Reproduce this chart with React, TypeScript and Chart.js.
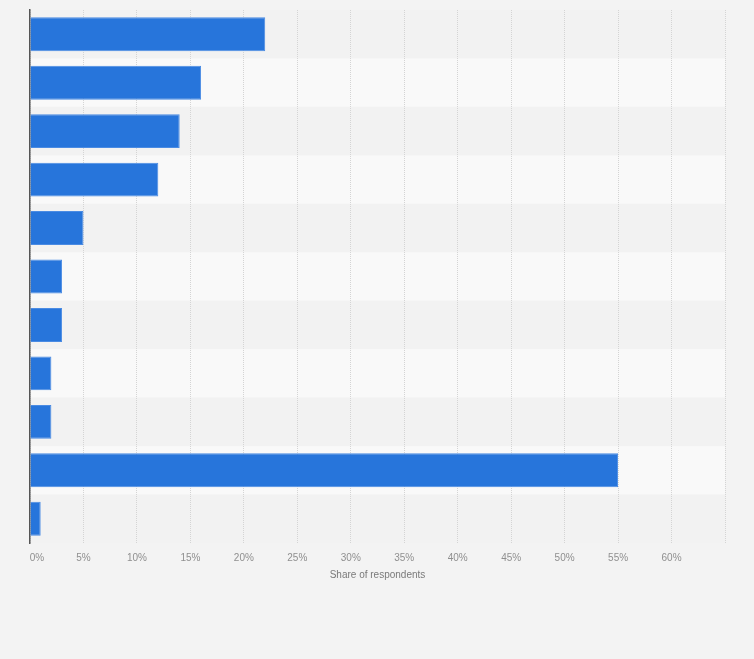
import React, { useEffect, useRef } from "react";
import { Chart, registerables } from "chart.js";

Chart.register(...registerables);

const categories = [
  "Answer 1",
  "Answer 2",
  "Answer 3",
  "Answer 4",
  "Answer 5",
  "Answer 6",
  "Answer 7",
  "Answer 8",
  "Answer 9",
  "Answer 10",
  "Answer 11",
];
const shareValues = [22, 16, 14, 12, 5, 3, 3, 2, 2, 55, 1];
const xTickValues = [0, 5, 10, 15, 20, 25, 30, 35, 40, 45, 50, 55, 60, 65];
const xAxisTitle = "Share of respondents";

const bgPlugin = {
  id: "bg",
  beforeDraw(chart: any) {
    const { ctx, width, height, chartArea, scales } = chart;
    ctx.save();
    ctx.fillStyle = "#f3f3f3";
    ctx.fillRect(0, 0, width, height);
    const y = scales.y;
    const n = categories.length;
    const h = (chartArea.bottom - chartArea.top) / n;
    for (let i = 0; i < n; i++) {
      const c = y.getPixelForValue(i);
      ctx.fillStyle = i % 2 === 1 ? "#f9f9f9" : "#f2f2f2";
      ctx.fillRect(chartArea.left, c - h / 2, chartArea.right - chartArea.left, h);
    }
    ctx.restore();
  },
};

export default function App() {
  const ref = useRef<HTMLCanvasElement>(null);
  useEffect(() => {
    document.body.style.margin = "0";
    const chart = new Chart(ref.current!, {
      type: "bar",
      data: {
        labels: categories,
        datasets: [
          {
            data: shareValues,
            backgroundColor: "#2775db",
            borderColor: "#4a8be3",
            borderWidth: 1,
            borderSkipped: "left",
            categoryPercentage: 1,
            barPercentage: 0.7,
          },
        ],
      },
      options: {
        indexAxis: "y",
        animation: false,
        responsive: false,
        maintainAspectRatio: false,
        layout: { padding: { top: 10, right: 29, bottom: 78, left: 0 } },
        plugins: { legend: { display: false }, tooltip: { enabled: false } },
        scales: {
          x: {
            type: "linear",
            min: 0,
            max: 65,
            afterBuildTicks: (s: any) => {
              s.ticks = xTickValues.map((v) => ({ value: v }));
            },
            ticks: {
              padding: 9,
              color: "#8f8f8f",
              font: { family: "'Liberation Sans', Arial, sans-serif", size: 10 },
              callback: (v: any) => (v === 65 ? "" : v === 0 ? "     0%" : v + "%"),
              maxRotation: 0,
              autoSkip: false,
            },
            grid: {
              color: "#d4d4d4",
              drawTicks: false,
              lineWidth: 1,
            },
            border: { display: false, dash: [1, 1] },
            title: {
              display: true,
              text: xAxisTitle,
              color: "#7a7a7a",
              font: { family: "'Liberation Sans', Arial, sans-serif", size: 10 },
              padding: { top: -4, bottom: 0 },
            },
          },
          y: {
            type: "category",
            ticks: { display: false },
            grid: { display: false, drawTicks: false },
            border: { display: true, color: "#555555", width: 1.5 },
            afterFit: (s: any) => {
              s.width = 30;
            },
          },
        },
      },
      plugins: [bgPlugin],
    } as any);
    return () => chart.destroy();
  }, []);
  return (
    <div style={{ position: "absolute", left: 0, top: 0, width: 754, height: 659, background: "#f3f3f3" }}>
      <canvas ref={ref} width={754} height={659} style={{ display: "block" }} />
    </div>
  );
}
